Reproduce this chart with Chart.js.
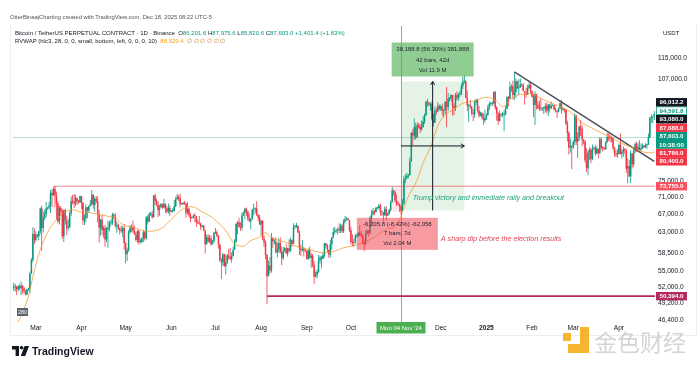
<!DOCTYPE html>
<html><head><meta charset="utf-8">
<script src="https://cdn.jsdelivr.net/npm/chart.js@4.4.1/dist/chart.umd.min.js"></script>
<style>
html,body{margin:0;padding:0;background:#fff;}
#wrap{position:relative;width:700px;height:365px;overflow:hidden;font-family:"Liberation Sans",Arial,sans-serif;}
#c{position:absolute;left:0;top:0;}
.t{position:absolute;white-space:nowrap;line-height:1;}
.g{color:#089981;}
</style></head><body>
<div id="wrap">
<div style="position:absolute;left:10px;top:24px;width:687px;height:312px;border:1px solid #eceef2;border-top:none;box-sizing:border-box"></div>
<canvas id="c" width="700" height="365"></canvas>
<div class="t" style="left:10px;top:15px;font-size:5.8px;color:#50535e">OtterBinaajCharting created with TradingView.com, Dec 18, 2025 08:22 UTC-5</div>
<div class="t" style="left:15px;top:30px;font-size:6px;color:#131722">Bitcoin / TetherUS PERPETUAL CONTRACT · 1D · Binance&nbsp; O<span class="g">86,201.6</span> H<span class="g">87,975.6</span> L<span class="g">85,820.6</span> C<span class="g">87,603.0</span> <span class="g">+1,401.4 (+1.63%)</span></div>
<div class="t" style="left:15px;top:38px;font-size:6px;color:#131722">RVWAP (hlc3, 28, 0, 0, small, bottom, left, 0, 0, 0, 10)&nbsp; <span style="color:#ff9800">88,929.4</span>&nbsp; <span style="color:#c8893a">∅ ∅ ∅ ∅ ∅ ∅</span></div>
<div class="t" style="left:663px;top:30px;font-size:6px;color:#131722">USDT</div>
<svg style="position:absolute;left:12px;top:346px" width="17" height="10" viewBox="0 0 17 10"><path d="M0 0H7V10H3.6V3.4H0Z" fill="#131722"/><circle cx="9.6" cy="1.8" r="1.8" fill="#131722"/><path d="M12.6 0H17L13.2 10H8.8Z" fill="#131722"/></svg>
<div class="t" style="left:32px;top:346px;font-size:10.5px;font-weight:bold;color:#131722">TradingView</div>
<svg style="position:absolute;left:563px;top:327px" width="26" height="26" viewBox="0 0 26 26"><path d="M17 0H26V26H5V17H17Z" fill="#f6b52e"/><rect x="0" y="6" width="8" height="8" fill="#f6b52e"/></svg>
<div class="t" style="left:594px;top:330px;font-size:23px;color:rgba(160,160,160,0.45);font-family:'Noto Sans CJK SC',sans-serif">金色财经</div>
</div>
<script>
// ---------- DATA (BTCUSDT perpetual, daily) ----------
const startDate = '2024-02-15';
const opens = [
51800,52000,52100,51600,52100,51800,52300,51800,51300,50700,51600,51700,54500,57100,62500,
61200,62400,62000,63100,68300,63800,66100,66900,68300,68500,69000,72100,71500,73100,71400,69500,65300,68400,67600,62000,67900,65500,63800,64000,67200,70000,69900,69500,70800,70000,69700,
71300,69700,65500,66000,68500,67800,68900,69400,71600,69100,70600,70000,67100,63900,65700,63400,63800,61300,63500,63800,64900,64900,66800,66400,64300,64500,63800,63400,63100,63800,
60600,58300,59100,62900,63900,64000,63200,62300,61200,63100,60800,60800,61500,62900,61600,66200,65200,67000,67000,66300,71400,70100,69100,67900,68500,69300,68500,69400,68300,67600,68400,
67500,67700,67700,68800,70500,71100,70800,69300,69300,69600,69500,67300,68200,66800,66000,66200,66600,66500,65100,64900,64800,64100,64300,63200,60300,61800,60900,61600,60300,60900,
62700,62900,62100,60200,57000,56700,58200,55900,56700,58000,57700,57300,57900,59200,60800,64700,65100,64100,63900,66700,67200,68200,67600,65900,65400,65800,67900,68200,68300,66800,66200,
64600,65400,61500,60700,58100,54000,56000,55100,61700,60900,60900,58700,59300,60600,58700,57500,58900,59500,58400,59500,59000,61200,60400,64100,64200,64200,62800,59400,59100,59400,59100,
58900,57300,59100,57500,58000,56200,53900,54200,54800,57000,57600,57300,58100,60500,60000,59200,58200,60300,61800,62900,63200,63300,63600,63300,64300,63100,65200,65800,65900,65600,
63300,60800,60600,60800,62100,62100,62800,62200,62100,60600,60300,62500,63200,62800,66000,67000,67600,67400,68400,68400,69000,67400,67400,66700,68200,66600,67000,67900,69900,72700,72300,
70200,69500,69400,68800,67800,69400,75600,75900,76500,76700,80500,88700,87900,90500,87400,91100,90600,89800,90500,92300,94300,98900,98400,97800,98000,93000,91900,95900,95600,97500,
96400,97200,95800,96000,98800,97000,99900,99900,101200,97400,96700,101200,100000,101400,101400,104400,106000,106100,100200,97500,97800,97200,95100,94700,98700,99400,95800,94200,95100,93600,92700,
93400,94400,96900,98100,98200,98300,102200,96900,95000,92500,94700,94500,94500,94500,96500,100500,99900,104100,104400,101200,102200,106100,103600,103900,104800,104700,102600,102000,101300,103700,104700,
102400,100600,97700,101400,97800,96600,96600,96500,96500,96500,97400,95800,97900,96600,97500,97600,96100,95800,95500,96600,98300,96100,96500,96100,91600,88700,84300,84700,
84400,86000,94200,86100,87200,90600,89900,86700,86100,80700,78500,82900,83700,81000,83900,84300,82600,84000,82700,86800,84200,84100,83800,86000,87500,87400,86900,87200,84300,82600,82300,
82500,85100,82500,83100,83800,83500,78400,79100,76300,82600,79600,83400,85300,83700,84500,83600,84000,84900,84400,85000,85100,87500,93400,93700,93900
];
const highs = [
52800,52600,52200,52400,52500,53000,52400,52000,51500,51700,51900,54900,57500,64000,63700,
63100,62400,63200,68500,69000,67600,68000,69900,68600,69900,72800,73000,73600,73800,72400,70000,68900,68900,68100,68000,68200,66600,65900,67600,71200,71600,71800,71600,70900,70300,71400,
71300,69700,66900,69300,68700,69000,70300,72800,71800,71200,71300,71200,67900,65800,66900,64300,64500,64100,65500,65400,65700,67200,67200,67100,65300,64800,63900,64300,64200,64700,
60800,59600,63300,64500,64600,65500,64400,63000,63400,63500,61500,61800,63400,63100,66500,66700,67400,67400,67700,71500,71900,70600,70000,69200,69600,69500,70600,69500,68900,69500,69000,
67900,68400,70300,71100,71800,71600,71900,69500,69900,70100,69600,69900,68400,67300,66400,66900,67200,66500,65700,66500,65000,64500,64500,63400,62400,62500,62300,62200,61200,63000,
63800,63300,62300,60500,57500,58500,58400,58200,58300,59400,59500,58600,59800,61400,64900,65400,66100,65100,67400,67600,68400,68500,67800,67100,66100,68200,69400,68300,70000,66900,66800,
65600,65600,62200,61100,58300,57000,57700,62700,61800,61500,61800,60700,61600,61800,59800,59800,59700,60300,59600,61400,61800,61400,64900,64500,65000,64500,63200,60200,61200,59800,59400,
59100,59400,59800,58500,58300,56900,54900,55300,58100,58000,57900,58500,60600,60600,60400,59200,61300,61800,63800,64100,63500,64000,64800,64800,64700,65800,66500,66300,66100,65600,
64100,62400,61500,62500,62400,62900,64500,63200,62500,61300,63400,63500,63300,66500,67900,68400,68000,68700,68700,69400,69500,67800,67400,68800,68800,67400,68200,70200,73600,72900,72700,
71600,70000,69400,69000,70600,76500,76900,77300,76900,81500,89000,89900,93300,91800,91900,91900,91500,92600,94000,94900,99000,99800,98800,98600,98900,94800,97200,96700,98700,97900,
97800,98200,96300,99000,104000,101900,100500,101400,101200,98300,101900,102500,102000,102700,105300,107800,108300,106500,102800,98000,99500,97400,96400,99400,99900,99900,97500,95500,95200,94900,96200,
95000,97800,98900,98700,98800,102500,102700,97300,95300,95800,94900,95400,95900,97400,100700,100800,105900,104900,106300,109600,107200,106300,106800,107100,105300,105500,102600,103800,104800,106400,106000,
102800,101500,102500,101700,99000,99200,100100,96900,97300,98300,98500,98100,98000,98800,97900,97700,97000,96000,96900,98700,99500,96900,96600,96500,92500,89300,87000,85100,
86500,95000,94400,88900,91000,92800,91200,86900,86500,84100,83600,84400,84300,85200,84700,85000,84700,84000,87400,87400,84800,84500,86100,88700,88500,88300,87800,87500,84600,83500,83900,
85500,88500,83900,84700,84200,83800,81200,80800,83500,82700,84200,85800,86100,85800,86500,85500,85500,85100,85600,85300,88500,93800,94700,94000,95700
];
const lows = [
51300,51200,50600,51200,51500,50600,50800,50900,50500,50600,51300,50900,54400,56700,60400,
60800,61700,61100,62500,59000,62800,65600,66100,68000,68000,67200,68600,71300,68600,65600,64800,64600,66600,61500,60800,64600,62300,63300,63800,66600,69300,68400,68900,69100,69500,69600,
68100,64500,64500,65100,66000,67400,68700,69000,68200,67500,69600,65100,60700,62100,62300,61700,59800,60800,59600,63100,64300,64500,65800,63900,62800,63300,62400,62800,61800,59200,
56500,56900,58800,62600,62900,62700,62300,60900,60600,60200,60500,60600,60800,61100,61300,64600,65100,66600,65900,66100,69200,68800,66300,66600,68500,68200,68300,67200,67100,67100,66600,
67400,67300,67600,68600,70400,70100,68500,69200,69200,69200,66100,66900,66300,65100,65900,66000,65100,64100,64700,64500,63400,63900,63200,58400,60300,60700,60600,60000,60300,60700,
62500,61800,59400,56800,53500,56000,55800,54300,56300,57200,57100,56600,57800,59200,60700,62400,63900,63200,63300,66500,65800,66600,65400,65100,63500,65800,66700,67100,66500,65300,64500,
62300,61200,59800,57200,49000,54000,54500,54700,59600,60300,58400,57600,58500,58400,56100,57100,58800,58400,57800,58600,58800,59800,60400,63600,63800,62800,58100,57900,58800,57800,58700,
57200,57100,57400,55600,55700,52600,53800,53600,54600,56400,55500,57300,57600,59500,58700,57500,57600,59200,61600,62400,62800,62400,62700,62700,62700,62700,64800,65500,65400,62900,
60200,59900,59800,60500,61700,61900,62100,61800,60300,58900,60200,62400,62000,62400,64800,66700,66700,67400,68100,68000,66600,66600,65200,66600,65500,66600,66800,67500,69700,71400,69700,
68800,69000,67500,66800,67500,69300,74600,75500,75800,76500,80200,85100,86600,86700,87100,90100,88700,89400,90400,91500,94100,97200,97200,95800,92600,90800,91800,94600,95400,96000,
95700,94200,93600,94600,90500,95900,98900,98800,94200,94300,95700,99300,99200,100600,101200,103300,105300,100000,95600,92200,96400,94200,92400,93400,97600,95100,93500,94000,92900,91300,92000,
92800,94200,96000,97500,97300,97900,96100,92500,91200,92200,93800,93700,89200,94300,96500,97300,99900,102300,99500,99500,100100,103300,101200,103700,104100,102500,97800,100300,101300,103300,101600,
100300,93700,91200,96200,96200,95700,95700,95700,94700,95300,94900,94100,95200,96300,97200,96000,95200,93400,95200,96400,94800,95800,95200,91200,86100,82300,82800,78200,
83900,85100,85100,81400,86300,87800,84700,85300,80000,77500,76600,80700,79900,80700,83700,82000,82400,81200,82500,83700,83200,83700,83800,85600,86300,85800,85900,83600,81600,81600,81300,
82400,82300,81200,81700,82400,77200,74500,76200,74600,78400,78900,82800,83000,83700,83600,83100,83900,84300,84300,83900,85100,87100,91900,91700,92800
];
const closes = [
52000,52100,51600,52100,51800,52300,51800,51300,50700,51600,51700,54500,57100,62500,61200,
62400,62000,63100,68300,63800,66100,66900,68300,68500,69000,72100,71500,73100,71400,69500,65300,68400,67600,62000,67900,65500,63800,64000,67200,70000,69900,69500,70800,70000,69700,71300,
69700,65500,66000,68500,67800,68900,69400,71600,69100,70600,70000,67100,63900,65700,63400,63800,61300,63500,63800,64900,64900,66800,66400,64300,64500,63800,63400,63100,63800,60600,
58300,59100,62900,63900,64000,63200,62300,61200,63100,60800,60800,61500,62900,61600,66200,65200,67000,67000,66300,71400,70100,69100,67900,68500,69300,68500,69400,68300,67600,68400,67500,
67700,67700,68800,70500,71100,70800,69300,69300,69600,69500,67300,68200,66800,66000,66200,66600,66500,65100,64900,64800,64100,64300,63200,60300,61800,60900,61600,60300,60900,62700,
62900,62100,60200,57000,56700,58200,55900,56700,58000,57700,57300,57900,59200,60800,64700,65100,64100,63900,66700,67200,68200,67600,65900,65400,65800,67900,68200,68300,66800,66200,64600,
65400,61500,60700,58100,54000,56000,55100,61700,60900,60900,58700,59300,60600,58700,57500,58900,59500,58400,59500,59000,61200,60400,64100,64200,64200,62800,59400,59100,59400,59100,58900,
57300,59100,57500,58000,56200,53900,54200,54800,57000,57600,57300,58100,60500,60000,59200,58200,60300,61800,62900,63200,63300,63600,63300,64300,63100,65200,65800,65900,65600,63300,
60800,60600,60800,62100,62100,62800,62200,62100,60600,60300,62500,63200,62800,66000,67000,67600,67400,68400,68400,69000,67400,67400,66700,68200,66600,67000,67900,69900,72700,72300,70200,
69500,69400,68800,67800,69400,75600,75900,76500,76700,80500,88700,87900,90500,87400,91100,90600,89800,90500,92300,94300,98900,98400,97800,98000,93000,91900,95900,95600,97500,96400,
97200,95800,96000,98800,97000,99900,99900,101200,97400,96700,101200,100000,101400,101400,104400,106000,106100,100200,97500,97800,97200,95100,94700,98700,99400,95800,94200,95100,93600,92700,93400,
94400,96900,98100,98200,98300,102200,96900,95000,92500,94700,94500,94500,94500,96500,100500,99900,104100,104400,101200,102200,106100,103600,103900,104800,104700,102600,102000,101300,103700,104700,102400,
100600,97700,101400,97800,96600,96600,96500,96500,96500,97400,95800,97900,96600,97500,97600,96100,95800,95500,96600,98300,96100,96500,96100,91600,88700,84300,84700,84400,
86000,94200,86100,87200,90600,89900,86700,86100,80700,78500,82900,83700,81000,83900,84300,82600,84000,82700,86800,84200,84100,83800,86000,87500,87400,86900,87200,84300,82600,82300,82500,
85100,82500,83100,83800,83500,78400,79100,76300,82600,79600,83400,85300,83700,84500,83600,84000,84900,84400,85000,85100,87500,93400,93700,93900,94700
];
// RVWAP (28) line read at sample dates
const rvwapDates = ['2024-02-15','2024-02-19','2024-02-25','2024-02-28','2024-03-04','2024-03-09','2024-03-14','2024-03-20','2024-03-26','2024-03-31','2024-04-07','2024-04-14','2024-04-20','2024-04-24','2024-04-29','2024-05-06','2024-05-15','2024-05-24','2024-06-02','2024-06-08','2024-06-15','2024-06-22','2024-06-29','2024-07-09','2024-07-13','2024-07-20','2024-07-24','2024-07-31','2024-08-04','2024-08-08','2024-08-16','2024-08-25','2024-09-03','2024-09-12','2024-09-19','2024-09-26','2024-10-05','2024-10-14','2024-10-25','2024-11-01','2024-11-04','2024-11-08','2024-11-15','2024-11-19','2024-11-24','2024-11-28','2024-12-02','2024-12-09','2024-12-16','2024-12-23','2025-01-01','2025-01-08','2025-01-12','2025-01-19','2025-01-29','2025-02-04','2025-02-11','2025-02-20','2025-02-27','2025-03-06','2025-03-12','2025-03-19','2025-03-26','2025-04-02','2025-04-11','2025-04-17','2025-04-23','2025-04-25'];
const rvwapValues = [45000,46600,50400,53900,59200,62800,65300,67300,68000,67500,67300,66800,66400,66100,64600,64000,63100,63500,66100,68000,68700,67500,66100,62800,60700,59900,60900,61900,62800,61700,60900,59900,59200,58600,58800,59600,60200,61300,63500,64500,66500,70400,75400,80000,84300,89700,93500,96100,98300,99000,100400,99000,97200,100400,101600,100800,99000,97200,95400,92200,90600,89000,87500,85700,84200,83100,82800,83100];
// price axis ticks
const yTicks = [115000,107000,99000,91000,83000,75000,71000,67000,63000,58500,55000,52000,49200,46400];
const yMin = 46079, yMax = 119063;
// time axis ticks
const xTickDates = ['2024-03-01','2024-04-01','2024-05-01','2024-06-01','2024-07-01','2024-08-01','2024-09-01','2024-10-01','2024-12-01','2025-01-01','2025-02-01','2025-03-01','2025-04-01'];
const xTickTexts = ['Mar','Apr','May','Jun','Jul','Aug','Sep','Oct','Dec','2025','Feb','Mar','Apr'];
// drawings
const hLineValues = [73755, 50394];
const hLineStarts = ['2024-03-13', '2024-08-05'];
const lastPrice = 87603;
const trendDates = ['2025-01-20', '2025-04-25'];
const trendPrices = [109600, 80400];
const greenRangeDates = ['2024-11-04', '2024-12-17'];
const greenRangePrices = [67830, 106018.8];
const greenRangeText = ['38,188.8 (56.30%) 381,888', '42 bars, 42d', 'Vol 11.9 M'];
const redRangeDates = ['2024-10-29', '2024-11-05'];
const redRangePrices = [73700, 67494.2];
const redRangeText = ['-6,205.8 (-8.42%) -62,058', '7 bars, 7d', 'Vol 2.04 M'];
const noteDates = ['2024-11-12', '2024-12-01'];
const notePrices = [70900, 61500];
const noteTexts = ['Trump victory and immediate rally and breakout', 'A sharp dip before the election results'];
const axisLabelValues = [96012.2, 94591.8, 93080.0, 87688.0, 87603.0, 81786.0, 80400.0, 73755.0, 50394.0];
const axisLabelColors = ['#131722', '#ffffff', '#131722', '#f23645', '#089981', '#f23645', '#f23645', '#f7525f', '#b22a5e'];
const countdownText = '10:38:00';
const markerDate = '2024-11-04';
const markerText = "Mon 04 Nov '24";

// ---------- BUILD ----------
const dates = [];
{
  const d0 = new Date(startDate + 'T00:00:00Z').getTime();
  for (let i = 0; i < closes.length; i++) dates.push(new Date(d0 + i * 86400000).toISOString().slice(0, 10));
}
const UP = '#089981', DOWN = '#f23645';
const candleColors = closes.map((c, i) => c >= opens[i] ? UP : DOWN);
const FONT = '"Liberation Sans", Arial, sans-serif';
const fmt = v => v.toLocaleString('en-US', {minimumFractionDigits: 1, maximumFractionDigits: 1});

function arrow(ctx, x0, y0, x1, y1) {
  ctx.beginPath(); ctx.moveTo(x0, y0); ctx.lineTo(x1, y1); ctx.stroke();
  const a = Math.atan2(y1 - y0, x1 - x0), L = 4;
  ctx.beginPath();
  ctx.moveTo(x1 - L * Math.cos(a - 0.55), y1 - L * Math.sin(a - 0.55));
  ctx.lineTo(x1, y1);
  ctx.lineTo(x1 - L * Math.cos(a + 0.55), y1 - L * Math.sin(a + 0.55));
  ctx.stroke();
}

const drawings = {
  id: 'drawings',
  beforeDatasetsDraw(chart) {
    const {ctx, chartArea: a, scales: {x, y}} = chart;
    const px = d => x.getPixelForValue(dates.indexOf(d));
    ctx.save();
    ctx.beginPath(); ctx.rect(a.left, a.top, a.width, a.height); ctx.clip();
    const ly = Math.round(y.getPixelForValue(lastPrice)) + 0.5;
    ctx.strokeStyle = 'rgba(8,153,129,0.3)'; ctx.lineWidth = 1;
    ctx.beginPath(); ctx.moveTo(a.left, ly); ctx.lineTo(a.right, ly); ctx.stroke();
    const gx0 = px(greenRangeDates[0]), gx1 = px(greenRangeDates[1]);
    const gy0 = y.getPixelForValue(greenRangePrices[1]), gy1 = y.getPixelForValue(greenRangePrices[0]);
    ctx.fillStyle = 'rgba(76,175,80,0.15)';
    ctx.fillRect(gx0, gy0, gx1 - gx0, gy1 - gy0);
    const rx0 = px(redRangeDates[0]), rx1 = px(redRangeDates[1]);
    const ry0 = y.getPixelForValue(redRangePrices[0]), ry1 = y.getPixelForValue(redRangePrices[1]);
    ctx.fillStyle = 'rgba(242,54,69,0.12)';
    ctx.fillRect(rx0, ry0, rx1 - rx0, ry1 - ry0);
    ctx.restore();
  },
  afterDatasetsDraw(chart) {
    const {ctx, chartArea: a, scales: {x, y}} = chart;
    const px = d => x.getPixelForValue(dates.indexOf(d));
    ctx.save();
    const vx = Math.round(px(markerDate)) + 0.5;
    ctx.strokeStyle = 'rgba(60,150,70,0.65)'; ctx.lineWidth = 1;
    ctx.beginPath(); ctx.moveTo(vx, 26); ctx.lineTo(vx, a.bottom); ctx.stroke();
    ctx.beginPath(); ctx.rect(a.left, a.top, a.width, a.height); ctx.clip();
    const hcol = ['rgba(242,54,69,0.6)', '#b22a5e'], hw = [1, 1.6];
    hLineValues.forEach((v, i) => {
      const yy = y.getPixelForValue(v);
      ctx.strokeStyle = hcol[i]; ctx.lineWidth = hw[i];
      ctx.beginPath(); ctx.moveTo(px(hLineStarts[i]), yy); ctx.lineTo(a.right, yy); ctx.stroke();
    });
    const gx0 = px(greenRangeDates[0]), gx1 = px(greenRangeDates[1]);
    const gy0 = y.getPixelForValue(greenRangePrices[1]), gy1 = y.getPixelForValue(greenRangePrices[0]);
    const gcx = (gx0 + gx1) / 2, gcy = (gy0 + gy1) / 2;
    ctx.strokeStyle = '#131722'; ctx.lineWidth = 1;
    arrow(ctx, gcx, gy1, gcx, gy0);
    arrow(ctx, gx0, gcy, gx1, gcy);
    ctx.restore();
    ctx.save();
    ctx.font = 'italic 7.2px ' + FONT; ctx.textBaseline = 'middle'; ctx.textAlign = 'left';
    const ncol = ['#1f9f7c', '#e0485a'];
    noteTexts.forEach((t, i) => {
      ctx.fillStyle = ncol[i];
      ctx.fillText(t, px(noteDates[i]), y.getPixelForValue(notePrices[i]));
    });
    ctx.restore();
  },
  afterDraw(chart) {
    const {ctx, chartArea: a, scales: {x, y}} = chart;
    const px = d => x.getPixelForValue(dates.indexOf(d));
    ctx.save();
    const gx0 = px(greenRangeDates[0]), gx1 = px(greenRangeDates[1]);
    const gy0 = y.getPixelForValue(greenRangePrices[1]);
    const gcx = (gx0 + gx1) / 2, gw = 82, gh = 34, gtop = gy0 - 5 - gh;
    ctx.fillStyle = 'rgba(76,175,80,0.62)';
    ctx.fillRect(gcx - gw / 2, gtop, gw, gh);
    ctx.fillStyle = '#1e222d'; ctx.font = '6px ' + FONT; ctx.textAlign = 'center'; ctx.textBaseline = 'middle';
    greenRangeText.forEach((t, i) => ctx.fillText(t, gcx, gtop + 7 + i * 10.5));
    const rx0 = px(redRangeDates[0]), rx1 = px(redRangeDates[1]);
    const ry1 = y.getPixelForValue(redRangePrices[1]);
    const rcx = (rx0 + rx1) / 2, rw = 81, rh = 32, rtop = ry1 + 6;
    ctx.fillStyle = 'rgba(242,54,69,0.5)';
    ctx.fillRect(rcx - rw / 2, rtop, rw, rh);
    ctx.fillStyle = '#1e222d';
    redRangeText.forEach((t, i) => ctx.fillText(t, rcx, rtop + 6.5 + i * 9.3));
    const mx = px(markerDate);
    ctx.fillStyle = '#4caf50';
    ctx.fillRect(mx - 24.5, a.bottom, 49, 11.5);
    ctx.fillStyle = '#ffffff'; ctx.font = '6px ' + FONT;
    ctx.fillText(markerText, mx, a.bottom + 6);
    ctx.fillStyle = '#5d606b';
    ctx.fillRect(a.left + 4, a.bottom - 14, 11, 8);
    ctx.fillStyle = '#ffffff'; ctx.font = '5.5px ' + FONT;
    ctx.fillText('280', a.left + 9.5, a.bottom - 10);
    const H = 8.4, bx = a.right + 1, bw = 31;
    const items = axisLabelValues.map((v, i) => ({v, col: axisLabelColors[i], yy: y.getPixelForValue(v), extra: v === lastPrice}));
    items.sort((p, q) => q.yy - p.yy);
    let prevTop = Infinity;
    ctx.font = 'bold 6.2px ' + FONT;
    items.forEach(it => {
      const h = it.extra ? 2 * H : H;
      let top = it.yy - H / 2;
      if (top + h > prevTop) top = prevTop - h;
      prevTop = top;
      ctx.fillStyle = it.col;
      ctx.fillRect(bx, top, bw, h);
      if (it.col === '#ffffff') {
        ctx.strokeStyle = '#089981'; ctx.lineWidth = 0.8;
        ctx.strokeRect(bx + 0.4, top + 0.4, bw - 0.8, h - 0.8);
        ctx.fillStyle = '#089981';
      } else ctx.fillStyle = '#ffffff';
      ctx.fillText(fmt(it.v), bx + bw / 2, top + H / 2 + 0.3);
      if (it.extra) ctx.fillText(countdownText, bx + bw / 2, top + H * 1.5 + 0.3);
    });
    ctx.restore();
  }
};

new Chart(document.getElementById('c'), {
  type: 'bar',
  data: {
    labels: dates,
    datasets: [
      {type: 'line', label: 'RVWAP', data: rvwapDates.map((d, i) => ({x: d, y: rvwapValues[i]})),
       borderColor: 'rgba(245,150,40,0.75)', borderWidth: 1, pointRadius: 0, cubicInterpolationMode: 'monotone', order: 0},
      {type: 'line', label: 'Trend', data: trendDates.map((d, i) => ({x: d, y: trendPrices[i]})),
       borderColor: '#4a4d57', borderWidth: 1.3, pointRadius: 0, order: 0},
      {type: 'bar', label: 'Body', data: opens.map((o, i) => [o, closes[i]]), backgroundColor: candleColors,
       barThickness: 1.5, grouped: false, minBarLength: 1, inflateAmount: 0, borderWidth: 0, order: 1},
      {type: 'bar', label: 'Wick', data: lows.map((l, i) => [l, highs[i]]), backgroundColor: candleColors,
       barThickness: 0.8, grouped: false, inflateAmount: 0, borderWidth: 0, order: 2}
    ]
  },
  options: {
    responsive: false, animation: false, devicePixelRatio: 1, events: [],
    layout: {padding: {left: 13, right: 0, top: 48, bottom: 30}},
    plugins: {legend: {display: false}, tooltip: {enabled: false}},
    scales: {
      x: {
        type: 'category', offset: true,
        grid: {display: false, drawTicks: false}, border: {display: false},
        ticks: {
          autoSkip: false, maxRotation: 0, minRotation: 0, padding: 2, color: '#131722',
          font: c => ({family: FONT, size: 6.6, weight: xTickTexts[c.index] === '2025' ? 'bold' : 'normal'}),
          callback: (v, i) => xTickTexts[i]
        },
        afterBuildTicks: s => { s.ticks = xTickDates.map(d => ({value: dates.indexOf(d)})); },
        afterFit: s => { s.height = 13; }
      },
      y: {
        type: 'logarithmic', position: 'right', min: yMin, max: yMax, bounds: 'data',
        grid: {display: false, drawTicks: false}, border: {display: false},
        ticks: {autoSkip: false, padding: 3, color: '#131722', font: {family: FONT, size: 6.6}, callback: v => fmt(v)},
        afterBuildTicks: s => { s.ticks = yTicks.map(v => ({value: v})); },
        afterFit: s => { s.width = 45; }
      }
    }
  },
  plugins: [drawings]
});
</script>
</body></html>
